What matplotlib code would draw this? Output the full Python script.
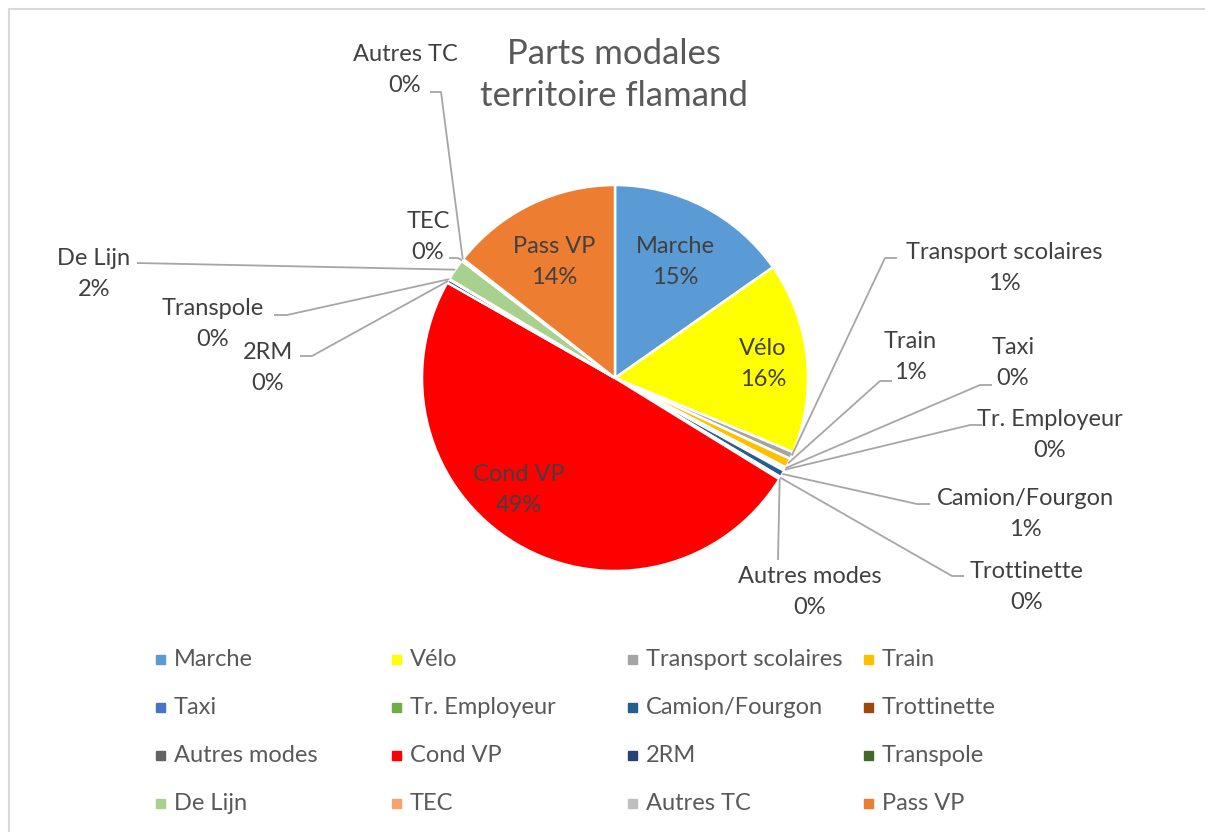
import matplotlib.pyplot as plt
from matplotlib.patches import Rectangle
import numpy as np

plt.rcParams['font.family'] = ['Lato', 'DejaVu Sans']

modes = ['Marche', 'Vélo', 'Transport scolaires', 'Train', 'Taxi', 'Tr. Employeur',
         'Camion/Fourgon', 'Trottinette', 'Autres modes', 'Cond VP', '2RM', 'Transpole',
         'De Lijn', 'TEC', 'Autres TC', 'Pass VP']
shares = [15.25, 16.0, 0.6, 0.8, 0.1, 0.2, 0.6, 0.1, 0.1, 49.4, 0.3, 0.05, 1.8, 0.1, 0.1, 14.4]
colors = ['#5B9BD5', '#FFFF00', '#A5A5A5', '#FFC000', '#4472C4', '#70AD47',
          '#255E91', '#9E480E', '#636363', '#FF0000', '#264478', '#43682B',
          '#A9D18E', '#F4A46C', '#BFBFBF', '#ED7D31']

# label layout (pixel coords): inside labels, then outside labels with leader lines
inside_pos = {'Marche': (675, 262), 'Vélo': (763, 364), 'Cond VP': (519, 490), 'Pass VP': (554, 262)}
outside_pos = {  # text center, elbow, line end
    'Transport scolaires': ((1004, 268), (885, 258), (897, 258)),
    'Train': ((910, 357), (880, 381), (892, 381)),
    'Taxi': ((1013, 363), (980, 385), (992, 385)),
    'Tr. Employeur': ((1050, 435), (970, 425), (982, 425)),
    'Camion/Fourgon': ((1025, 514), (917, 504), (930, 504)),
    'Trottinette': ((1027, 587), (952, 576), (964, 576)),
    'Autres modes': ((810, 592), (778, 560), (778, 560)),
    '2RM': ((268, 368), (312, 356), (300, 356)),
    'Transpole': ((213, 324), (287, 315), (274, 315)),
    'De Lijn': ((94, 274), (137, 263), (137, 263)),
    'TEC': ((428, 237), (458, 258), (449, 258)),
    'Autres TC': ((405, 70), (441, 92), (430, 92)),
}

W, H = 1205, 832
fig = plt.figure(figsize=(W / 100, H / 100), dpi=100)
ax = fig.add_axes([0, 0, 1, 1])

cx, cy, r = 615, 378, 193
total = sum(shares)
wedges, _ = ax.pie(shares, colors=colors, startangle=-90, counterclock=True,
                   center=(cx, cy), radius=r,
                   wedgeprops=dict(edgecolor='white', linewidth=1.8))
ax.set_xlim(0, W)
ax.set_ylim(H, 0)
ax.set_aspect('equal')
ax.axis('off')

label_color = '#404040'
fs = 17
for name, val, w in zip(modes, shares, wedges):
    pct = '%d%%' % round(val / total * 100)
    txt = name + '\n' + pct
    if name in inside_pos:
        x, y = inside_pos[name]
        ax.text(x, y, txt, ha='center', va='center', fontsize=fs, color=label_color,
                linespacing=1.6)
    else:
        (tx, ty), elbow, end = outside_pos[name]
        mid = np.deg2rad((w.theta1 + w.theta2) / 2)
        px, py = cx + r * np.cos(mid), cy + r * np.sin(mid)
        ax.plot([px, elbow[0], end[0]], [py, elbow[1], end[1]], color='#A6A6A6', lw=1.3,
                solid_capstyle='butt')
        ax.text(tx, ty, txt, ha='center', va='center', fontsize=fs, color=label_color,
                linespacing=1.6)

ax.text(614, 75, 'Parts modales\nterritoire flamand', ha='center', va='center',
        fontsize=25, color='#595959', linespacing=1.35)

# legend, row by row
for i, (name, c) in enumerate(zip(modes, colors)):
    row, col = divmod(i, 4)
    lx = 156 + col * 236
    ly = 659 + row * 48
    ax.add_patch(Rectangle((lx, ly - 4.5), 9, 9, color=c))
    ax.text(lx + 18, ly, name, ha='left', va='center', fontsize=fs, color='#595959')

# chart border
ax.plot([8.5, 8.5, W], [H, 8.5, 8.5], color='#D9D9D9', lw=1.5)

fig.savefig('out.png', dpi=100)
